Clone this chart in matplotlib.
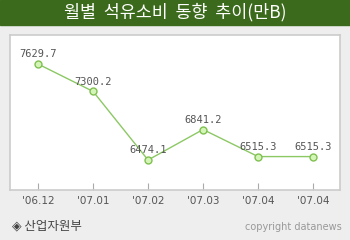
import matplotlib
matplotlib.use("Agg")
import matplotlib.pyplot as plt

plt.rcParams['font.family'] = ['Noto Sans CJK KR', 'DejaVu Sans']

months = ["'06.12", "'07.01", "'07.02", "'07.03", "'07.04", "'07.04"]
values = [7629.7, 7300.2, 6474.1, 6841.2, 6515.3, 6515.3]

title = "월별  석유소비  동향  추이(만B)"
source = "◈ 산업자원부"
credit = "copyright datanews"

fig = plt.figure(figsize=(3.5, 2.4), dpi=100)
fig.patch.set_facecolor("#eeeeee")

# green title bar
fig.patches.append(plt.Rectangle((0, 215 / 240), 1, 25 / 240, transform=fig.transFigure,
                                 color="#3b6a1c", zorder=0))
fig.text(0.5, 227.5 / 240, title, color="white", fontsize=12.5, ha="center", va="center")

ax = fig.add_axes([10 / 350, 50 / 240, 330 / 350, 155 / 240])
ax.set_facecolor("white")
x = list(range(len(values)))
ax.plot(x, values, color="#8cc864", lw=1, marker="o", ms=5,
        mfc="#d4f5b8", mec="#80c050", mew=1)

for xi, v in zip(x, values):
    ax.annotate(f"{v:.1f}", (xi, v), xytext=(0, 3.5), textcoords="offset points",
                ha="center", va="bottom", fontsize=7.5, color="#555555",
                family="DejaVu Sans Mono")

ax.set_xlim(-0.51, 5.49)
ax.set_ylim(6113, 7979)
ax.set_yticks([])
ax.set_xticks(x)
ax.set_xticklabels(months, fontsize=7.5, color="#555555", family="DejaVu Sans")
ax.tick_params(axis="x", direction="in", length=5, color="#aaaaaa", pad=4)
for s in ax.spines.values():
    s.set_color("#cccccc")
    s.set_linewidth(1.2)

fig.text(12 / 350, 14 / 240, source, fontsize=9, color="#444444", va="center", ha="left")
fig.text(342 / 350, 13 / 240, credit, fontsize=7, color="#999999", va="center", ha="right",
         family="DejaVu Sans")

fig.savefig("out.png", dpi=100, facecolor=fig.get_facecolor())
